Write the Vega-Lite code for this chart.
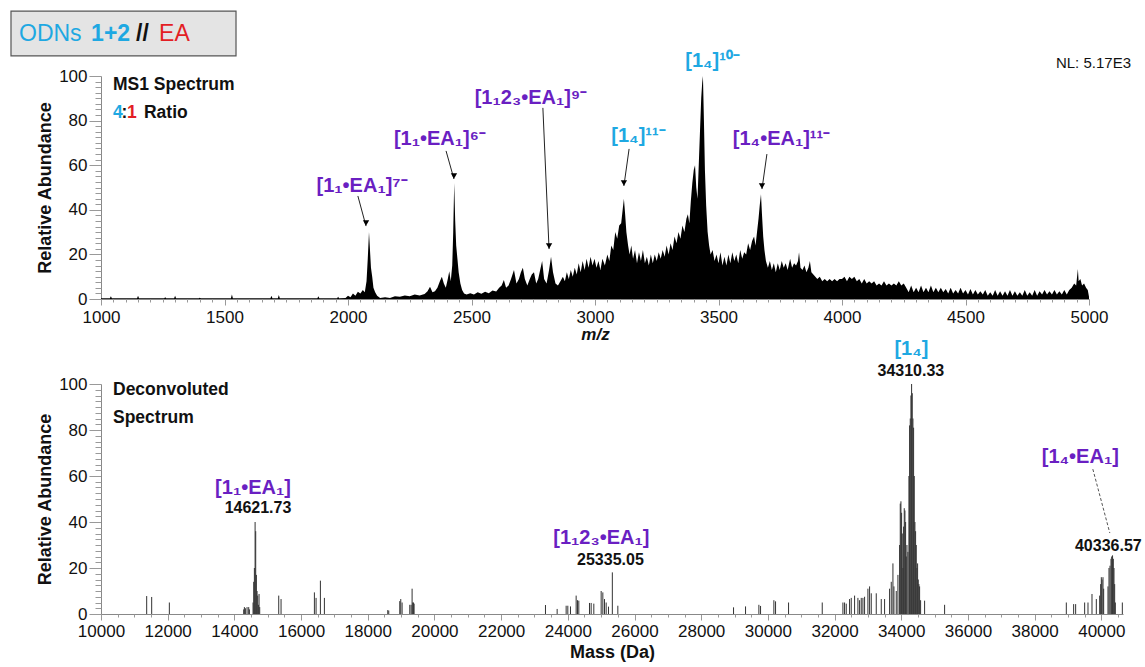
{
"$schema":"https://vega.github.io/schema/vega-lite/v6.json",
"padding":{"left":10,"top":10,"right":5,"bottom":5},
"background":"white",
"config":{
 "view":{"stroke":null},
 "font":"Liberation Sans",
 "axis":{"domainColor":"#888888","tickColor":"#999999","labelFont":"Liberation Sans","labelFontSize":17,"labelColor":"#111111","titleFont":"Liberation Sans","titleFontSize":18,"titleFontWeight":"bold","titleColor":"#111111","grid":false,"labelFlush":false,"labelOverlap":false}
},
"datasets":{
 "box":[{"mz0":635.6,"mz1":1546.6,"ab0":109.0,"ab1":129.1}],
 "box_regular":[{"text":"ODNs","mz":668,"ab":118.8,"species":"ODN"},{"text":"EA","mz":1235,"ab":118.8,"species":"EA"}],
 "box_bold":[{"text":"1+2","mz":960,"ab":118.8,"species":"ODN"},{"text":"//","mz":1142,"ab":118.8,"species":"none"}],
 "ms1_header":[{"text":"MS1 Spectrum","mz":1048.6,"ab":96,"species":"none"},{"text":"4","mz":1048.6,"ab":83.4,"species":"ODN"},{"text":":","mz":1083,"ab":83.4,"species":"none"},{"text":"1","mz":1105,"ab":83.4,"species":"EA"},{"text":"Ratio","mz":1174,"ab":83.4,"species":"none"}],
 "ms1_note":[{"text":"NL: 5.17E3","mz":5170,"ab":105.8}],
 "ms1_labels":[
  {"text":"[1₁•EA₁]⁷⁻","mz":2057,"ab":50.7,"species":"ODN•EA"},
  {"text":"[1₁•EA₁]⁶⁻","mz":2372,"ab":71.7,"species":"ODN•EA"},
  {"text":"[1₁2₃•EA₁]⁹⁻","mz":2741,"ab":90.1,"species":"ODN•EA"},
  {"text":"[1₄]¹¹⁻","mz":3176,"ab":73.1,"species":"ODN"},
  {"text":"[1₄]¹⁰⁻","mz":3476,"ab":106.7,"species":"ODN"},
  {"text":"[1₄•EA₁]¹¹⁻","mz":3755,"ab":71.7,"species":"ODN•EA"}
 ],
 "ms1_arrows":[
  {"mz":2040,"ab":46.2,"mz_tip":2073,"ab_tip":32.7},
  {"mz":2397,"ab":66.4,"mz_tip":2429,"ab_tip":53.8},
  {"mz":2789,"ab":85.7,"mz_tip":2814,"ab_tip":22.4},
  {"mz":3138,"ab":67.3,"mz_tip":3117,"ab_tip":50.7},
  {"mz":3696,"ab":65.0,"mz_tip":3676,"ab_tip":49.3}
 ],
 "ms1":[
{"mz":1000,"ab":0.3},{"mz":1036,"ab":0.3},{"mz":1040,"ab":1.2},{"mz":1044,"ab":0.3},{"mz":1146,"ab":0.3},{"mz":1150,"ab":1.5},{"mz":1154,"ab":0.3},{"mz":1256,"ab":0.3},{"mz":1260,"ab":0.8},{"mz":1264,"ab":0.3},{"mz":1296,"ab":0.3},{"mz":1300,"ab":1.5},{"mz":1304,"ab":0.3},{"mz":1396,"ab":0.3},{"mz":1400,"ab":0.6},{"mz":1404,"ab":0.3},{"mz":1526,"ab":0.3},{"mz":1530,"ab":2.0},{"mz":1534,"ab":0.3},{"mz":1686,"ab":0.3},{"mz":1690,"ab":1.5},{"mz":1694,"ab":0.3},{"mz":1716,"ab":0.3},{"mz":1720,"ab":1.8},{"mz":1724,"ab":0.3},{"mz":1876,"ab":0.3},{"mz":1880,"ab":1.2},{"mz":1884,"ab":0.3},{"mz":1956,"ab":0.3},{"mz":1960,"ab":1.0},{"mz":1964,"ab":0.3},{"mz":1990,"ab":0.4},
{"mz":2000,"ab":1.5},{"mz":2010,"ab":0.8},{"mz":2020,"ab":2.5},{"mz":2030,"ab":1.5},{"mz":2040,"ab":3.2},{"mz":2050,"ab":2.5},{"mz":2060,"ab":4},{"mz":2068,"ab":3},{"mz":2075,"ab":8},{"mz":2080,"ab":18},{"mz":2085,"ab":30},{"mz":2089,"ab":22},{"mz":2093,"ab":14},{"mz":2098,"ab":10},{"mz":2103,"ab":5},{"mz":2110,"ab":3},{"mz":2118,"ab":1.5},{"mz":2130,"ab":0.5},{"mz":2150,"ab":0.8},{"mz":2170,"ab":0.5},{"mz":2190,"ab":1.2},{"mz":2210,"ab":1.0},{"mz":2230,"ab":1.6},{"mz":2250,"ab":1.2},{"mz":2270,"ab":2.0},{"mz":2290,"ab":1.6},{"mz":2310,"ab":2.2},{"mz":2322,"ab":3.5},{"mz":2332,"ab":5.5},{"mz":2342,"ab":3},{"mz":2352,"ab":3.5},{"mz":2362,"ab":5},{"mz":2372,"ab":8},{"mz":2380,"ab":10},{"mz":2388,"ab":7},{"mz":2396,"ab":5},{"mz":2404,"ab":9},{"mz":2410,"ab":12.5},{"mz":2416,"ab":8},{"mz":2422,"ab":15},{"mz":2426,"ab":30},{"mz":2430,"ab":52},{"mz":2434,"ab":35},{"mz":2438,"ab":24},{"mz":2443,"ab":18},{"mz":2448,"ab":12},{"mz":2455,"ab":7},{"mz":2462,"ab":4},{"mz":2470,"ab":2.5},{"mz":2480,"ab":2},{"mz":2495,"ab":2.6},{"mz":2510,"ab":2.0},{"mz":2525,"ab":3.0},{"mz":2540,"ab":2.4},{"mz":2555,"ab":3.2},{"mz":2570,"ab":2.6},{"mz":2585,"ab":3.8},{"mz":2600,"ab":3.4},{"mz":2612,"ab":5},{"mz":2622,"ab":6},{"mz":2631,"ab":8.5},{"mz":2640,"ab":5},{"mz":2650,"ab":6},{"mz":2660,"ab":9},{"mz":2672,"ab":13},{"mz":2682,"ab":7},{"mz":2692,"ab":9},{"mz":2700,"ab":12},{"mz":2708,"ab":14},{"mz":2716,"ab":9},{"mz":2726,"ab":6},{"mz":2736,"ab":9},{"mz":2744,"ab":11},{"mz":2753,"ab":12},{"mz":2762,"ab":7},{"mz":2770,"ab":9},{"mz":2778,"ab":13},{"mz":2786,"ab":17},{"mz":2794,"ab":9},{"mz":2804,"ab":7},{"mz":2814,"ab":13},{"mz":2822,"ab":19},{"mz":2830,"ab":12},{"mz":2840,"ab":7},{"mz":2850,"ab":6},{"mz":2860,"ab":8},{"mz":2870,"ab":10},{"mz":2878,"ab":8},{"mz":2886,"ab":12},{"mz":2894,"ab":9},{"mz":2902,"ab":13},{"mz":2910,"ab":10},{"mz":2918,"ab":14},{"mz":2926,"ab":11},{"mz":2934,"ab":16},{"mz":2942,"ab":12},{"mz":2950,"ab":17},{"mz":2958,"ab":13},{"mz":2966,"ab":18},{"mz":2974,"ab":14},{"mz":2982,"ab":19},{"mz":2990,"ab":15},{"mz":2998,"ab":18},{"mz":3006,"ab":14},{"mz":3014,"ab":17},{"mz":3022,"ab":13},{"mz":3030,"ab":18},{"mz":3040,"ab":15},{"mz":3050,"ab":20},{"mz":3058,"ab":17},{"mz":3066,"ab":24},{"mz":3074,"ab":22},{"mz":3082,"ab":30},{"mz":3090,"ab":27},{"mz":3098,"ab":33},{"mz":3106,"ab":34},{"mz":3112,"ab":40},{"mz":3117,"ab":45},{"mz":3122,"ab":38},{"mz":3127,"ab":30},{"mz":3134,"ab":24},{"mz":3140,"ab":20},{"mz":3147,"ab":24},{"mz":3154,"ab":18},{"mz":3162,"ab":22},{"mz":3170,"ab":16},{"mz":3178,"ab":21},{"mz":3186,"ab":17},{"mz":3194,"ab":22},{"mz":3202,"ab":16},{"mz":3210,"ab":19},{"mz":3218,"ab":15},{"mz":3226,"ab":20},{"mz":3234,"ab":16},{"mz":3242,"ab":20},{"mz":3250,"ab":17},{"mz":3258,"ab":21},{"mz":3266,"ab":18},{"mz":3274,"ab":22},{"mz":3282,"ab":19},{"mz":3290,"ab":24},{"mz":3298,"ab":20},{"mz":3306,"ab":25},{"mz":3314,"ab":22},{"mz":3322,"ab":28},{"mz":3330,"ab":25},{"mz":3338,"ab":30},{"mz":3346,"ab":27},{"mz":3354,"ab":33},{"mz":3362,"ab":30},{"mz":3370,"ab":36},{"mz":3376,"ab":38},{"mz":3382,"ab":34},{"mz":3388,"ab":44},{"mz":3394,"ab":52},{"mz":3400,"ab":58},{"mz":3405,"ab":60},{"mz":3410,"ab":50},{"mz":3415,"ab":45},{"mz":3420,"ab":60},{"mz":3425,"ab":75},{"mz":3430,"ab":90},{"mz":3434,"ab":97},{"mz":3437,"ab":100},{"mz":3441,"ab":80},{"mz":3445,"ab":58},{"mz":3450,"ab":42},{"mz":3456,"ab":30},{"mz":3462,"ab":24},{"mz":3468,"ab":20},{"mz":3476,"ab":22},{"mz":3484,"ab":17},{"mz":3492,"ab":20},{"mz":3500,"ab":16},{"mz":3508,"ab":21},{"mz":3516,"ab":15},{"mz":3524,"ab":19},{"mz":3532,"ab":15},{"mz":3540,"ab":20},{"mz":3548,"ab":16},{"mz":3556,"ab":21},{"mz":3564,"ab":17},{"mz":3572,"ab":20},{"mz":3580,"ab":16},{"mz":3588,"ab":22},{"mz":3596,"ab":18},{"mz":3604,"ab":21},{"mz":3612,"ab":20},{"mz":3620,"ab":25},{"mz":3628,"ab":22},{"mz":3636,"ab":26},{"mz":3644,"ab":28},{"mz":3650,"ab":24},{"mz":3656,"ab":30},{"mz":3662,"ab":36},{"mz":3667,"ab":42},{"mz":3672,"ab":47},{"mz":3676,"ab":38},{"mz":3681,"ab":28},{"mz":3686,"ab":22},{"mz":3692,"ab":17},{"mz":3700,"ab":14},{"mz":3708,"ab":17},{"mz":3716,"ab":13},{"mz":3724,"ab":16},{"mz":3732,"ab":12},{"mz":3740,"ab":16},{"mz":3748,"ab":13},{"mz":3756,"ab":17},{"mz":3764,"ab":14},{"mz":3772,"ab":16},{"mz":3780,"ab":13},{"mz":3790,"ab":18},{"mz":3798,"ab":14},{"mz":3806,"ab":16},{"mz":3814,"ab":15},{"mz":3822,"ab":17},{"mz":3826,"ab":21},{"mz":3832,"ab":14},{"mz":3840,"ab":13},{"mz":3848,"ab":15},{"mz":3856,"ab":12},{"mz":3864,"ab":14},{"mz":3870,"ab":17},{"mz":3876,"ab":12},{"mz":3884,"ab":11},{"mz":3892,"ab":10},{"mz":3900,"ab":9},{"mz":3910,"ab":10},{"mz":3920,"ab":8},{"mz":3930,"ab":9},{"mz":3940,"ab":8},{"mz":3950,"ab":9},{"mz":3960,"ab":8},{"mz":3970,"ab":9},{"mz":3980,"ab":8},{"mz":3990,"ab":9},{"mz":4000,"ab":9},{"mz":4010,"ab":10},{"mz":4020,"ab":8},{"mz":4030,"ab":10},{"mz":4040,"ab":9},{"mz":4050,"ab":10},{"mz":4060,"ab":8},{"mz":4070,"ab":9},{"mz":4080,"ab":7},{"mz":4090,"ab":9},{"mz":4100,"ab":7},{"mz":4110,"ab":8},{"mz":4120,"ab":7},{"mz":4130,"ab":8},{"mz":4140,"ab":6},{"mz":4150,"ab":7},{"mz":4160,"ab":6},{"mz":4170,"ab":8},{"mz":4180,"ab":6},{"mz":4190,"ab":7},{"mz":4200,"ab":6},{"mz":4210,"ab":7},{"mz":4220,"ab":6},{"mz":4230,"ab":8},{"mz":4240,"ab":6},{"mz":4250,"ab":7},{"mz":4260,"ab":5},{"mz":4270,"ab":3},{"mz":4280,"ab":6},{"mz":4290,"ab":3},{"mz":4300,"ab":5},{"mz":4310,"ab":3},{"mz":4320,"ab":6},{"mz":4330,"ab":3},{"mz":4340,"ab":5},{"mz":4350,"ab":3},{"mz":4360,"ab":6},{"mz":4370,"ab":3},{"mz":4380,"ab":5},{"mz":4390,"ab":3},{"mz":4400,"ab":5},{"mz":4410,"ab":3},{"mz":4420,"ab":4.5},{"mz":4430,"ab":2.5},{"mz":4440,"ab":5},{"mz":4450,"ab":2.5},{"mz":4460,"ab":4},{"mz":4470,"ab":2.5},{"mz":4480,"ab":5},{"mz":4490,"ab":2.5},{"mz":4500,"ab":4},{"mz":4510,"ab":2},{"mz":4520,"ab":4.5},{"mz":4530,"ab":2},{"mz":4540,"ab":4},{"mz":4550,"ab":2},{"mz":4560,"ab":3.5},{"mz":4570,"ab":2},{"mz":4580,"ab":4},{"mz":4590,"ab":1.5},{"mz":4600,"ab":3},{"mz":4610,"ab":1.5},{"mz":4620,"ab":4},{"mz":4630,"ab":1.5},{"mz":4640,"ab":3.5},{"mz":4650,"ab":1.5},{"mz":4660,"ab":3.5},{"mz":4670,"ab":1.5},{"mz":4680,"ab":4},{"mz":4690,"ab":1.5},{"mz":4700,"ab":3.5},{"mz":4710,"ab":1.5},{"mz":4720,"ab":3},{"mz":4730,"ab":1.5},{"mz":4740,"ab":4},{"mz":4750,"ab":1.5},{"mz":4760,"ab":3},{"mz":4770,"ab":1.5},{"mz":4780,"ab":4},{"mz":4790,"ab":1.5},{"mz":4800,"ab":3.5},{"mz":4810,"ab":2},{"mz":4820,"ab":4},{"mz":4830,"ab":2},{"mz":4840,"ab":3.5},{"mz":4850,"ab":2},{"mz":4860,"ab":4},{"mz":4870,"ab":2},{"mz":4880,"ab":3.5},{"mz":4890,"ab":2},{"mz":4900,"ab":4},{"mz":4910,"ab":2},{"mz":4920,"ab":4},{"mz":4930,"ab":5},{"mz":4940,"ab":7},{"mz":4948,"ab":6},{"mz":4955,"ab":13.5},{"mz":4958,"ab":8},{"mz":4965,"ab":9},{"mz":4972,"ab":6},{"mz":4980,"ab":7},{"mz":4988,"ab":5},{"mz":4995,"ab":4},{"mz":5000,"ab":1}
 ],
 "deconv":[
{"mass":11370,"ab":7.8},{"mass":11520,"ab":7.4},{"mass":12050,"ab":5},
{"mass":14280,"ab":2},{"mass":14300,"ab":3},{"mass":14330,"ab":2.5},{"mass":14380,"ab":3},{"mass":14430,"ab":3},{"mass":14450,"ab":2},{"mass":14560,"ab":5},{"mass":14580,"ab":14},{"mass":14600,"ab":20},{"mass":14621.73,"ab":40},{"mass":14640,"ab":36},{"mass":14660,"ab":17},{"mass":14680,"ab":10},{"mass":14700,"ab":8},{"mass":14720,"ab":4},{"mass":14740,"ab":8.7},{"mass":14760,"ab":3},
{"mass":15330,"ab":8},{"mass":15400,"ab":6.5},{"mass":16400,"ab":9.4},{"mass":16450,"ab":7},{"mass":16580,"ab":14.5},{"mass":16700,"ab":7},
{"mass":18600,"ab":1.7},{"mass":18630,"ab":1.5},{"mass":18960,"ab":5.6},{"mass":18990,"ab":6.5},{"mass":19030,"ab":5},{"mass":19260,"ab":4},{"mass":19300,"ab":4},{"mass":19330,"ab":11},{"mass":19350,"ab":5},{"mass":19370,"ab":5},{"mass":19390,"ab":4.5},
{"mass":23330,"ab":3.9},{"mass":23680,"ab":2.2},{"mass":23950,"ab":3.6},{"mass":24000,"ab":3.6},{"mass":24080,"ab":3.3},{"mass":24250,"ab":8},{"mass":24290,"ab":6},{"mass":24330,"ab":5.8},{"mass":24650,"ab":4.8},{"mass":24700,"ab":4.8},{"mass":24780,"ab":4.5},{"mass":25000,"ab":10},{"mass":25050,"ab":9.4},{"mass":25100,"ab":6.5},{"mass":25150,"ab":5},{"mass":25220,"ab":3.2},{"mass":25335.05,"ab":18.1},{"mass":25500,"ab":3.6},
{"mass":28970,"ab":2.9},{"mass":29330,"ab":3.3},{"mass":29730,"ab":4},{"mass":29780,"ab":3.5},{"mass":30180,"ab":6},{"mass":30230,"ab":5.5},{"mass":30620,"ab":5},
{"mass":31630,"ab":5},{"mass":32250,"ab":5},{"mass":32300,"ab":5},{"mass":32350,"ab":4.5},{"mass":32450,"ab":6.5},{"mass":32500,"ab":7},{"mass":32600,"ab":8},{"mass":32700,"ab":7},{"mass":32750,"ab":6},{"mass":32800,"ab":7},{"mass":32850,"ab":7},{"mass":32900,"ab":7.5},{"mass":33000,"ab":11},{"mass":33050,"ab":12},{"mass":33100,"ab":9},{"mass":33250,"ab":9},{"mass":33400,"ab":6.5},{"mass":33500,"ab":6.5},
{"mass":33650,"ab":11},{"mass":33700,"ab":14},{"mass":33750,"ab":22},{"mass":33780,"ab":12},{"mass":33850,"ab":10},{"mass":33900,"ab":17},{"mass":33950,"ab":30},{"mass":33970,"ab":48},{"mass":33990,"ab":49},{"mass":34010,"ab":44},{"mass":34030,"ab":35},{"mass":34050,"ab":20},{"mass":34070,"ab":38},{"mass":34090,"ab":46},{"mass":34110,"ab":45},{"mass":34130,"ab":40},{"mass":34150,"ab":25},{"mass":34170,"ab":30},{"mass":34200,"ab":27},{"mass":34230,"ab":60},{"mass":34250,"ab":82},{"mass":34270,"ab":85},{"mass":34290,"ab":95},{"mass":34310.33,"ab":100},{"mass":34330,"ab":96},{"mass":34350,"ab":85},{"mass":34370,"ab":81},{"mass":34390,"ab":60},{"mass":34410,"ab":40},{"mass":34430,"ab":36},{"mass":34450,"ab":30},{"mass":34470,"ab":20},{"mass":34490,"ab":22},{"mass":34510,"ab":15},{"mass":34530,"ab":13},{"mass":34550,"ab":12},{"mass":34580,"ab":6},{"mass":34700,"ab":5.8},
{"mass":35300,"ab":4},{"mass":38950,"ab":5},{"mass":39170,"ab":4.3},{"mass":39230,"ab":4.3},{"mass":39500,"ab":5},{"mass":39600,"ab":5},{"mass":39720,"ab":8.7},{"mass":39850,"ab":6.5},
{"mass":39950,"ab":8},{"mass":39980,"ab":13},{"mass":40000,"ab":16},{"mass":40020,"ab":15},{"mass":40050,"ab":16},{"mass":40070,"ab":11},{"mass":40200,"ab":12},{"mass":40230,"ab":20},{"mass":40260,"ab":21},{"mass":40290,"ab":24},{"mass":40310,"ab":25},{"mass":40336.57,"ab":25.5},{"mass":40360,"ab":24},{"mass":40380,"ab":20},{"mass":40400,"ab":13},{"mass":40420,"ab":5},{"mass":40630,"ab":5}
 ],
 "deconv_header":[{"text":"Deconvoluted","mass":10360,"ab":97.4},{"text":"Spectrum","mass":10360,"ab":85.2}],
 "deconv_labels":[
  {"text":"[1₁•EA₁]","mass":14558,"ab":54.8,"species":"ODN•EA"},
  {"text":"[1₁2₃•EA₁]","mass":25007,"ab":33.0,"species":"ODN•EA"},
  {"text":"[1₄]","mass":34303,"ab":115.2,"species":"ODN"},
  {"text":"[1₄•EA₁]","mass":39370,"ab":68.3,"species":"ODN•EA"}
 ],
 "deconv_masses":[
  {"text":"14621.73","mass":14708,"ab":46.1},
  {"text":"25335.05","mass":25277,"ab":23.5},
  {"text":"34310.33","mass":34288,"ab":105.7},
  {"text":"40336.57","mass":40210,"ab":29.6}
 ],
 "deconv_link":[{"mass":39745,"ab":63.0,"mass_end":40255,"ab_end":35.2}]
},
"bounds":"flush",
"spacing":85,
"vconcat":[
 {
  "width":988,"height":223,
  "resolve":{"axis":{"x":"independent","y":"independent"}},
  "layer":[
   {"data":{"name":"box"},"mark":{"type":"rect","fill":"#e4e4e4","stroke":"#555555","strokeWidth":1.2},
    "encoding":{"x":{"field":"mz0","type":"quantitative","scale":{"domain":[1000,5000],"nice":false,"zero":false},"axis":null},"x2":{"field":"mz1"},
     "y":{"field":"ab0","type":"quantitative","scale":{"domain":[0,100],"nice":false},"axis":null},"y2":{"field":"ab1"}}},
   {"data":{"name":"ms1"},"mark":{"type":"area","color":"#000000","interpolate":"linear"},
    "encoding":{
     "x":{"field":"mz","type":"quantitative","scale":{"domain":[1000,5000],"nice":false,"zero":false},
      "axis":{"orient":"bottom","title":"m/z","titleFontStyle":"italic","titleFontSize":17,"titlePadding":1,"format":"d",
       "values":[1000,1500,2000,2500,3000,3500,4000,4500,5000],"tickSize":6,"labelPadding":4}},
     "y":{"field":"ab","type":"quantitative","scale":{"domain":[0,100],"nice":false},
      "axis":{"orient":"left","title":"Relative Abundance","titlePadding":4,"labelPadding":2,
       "values":[0,20,40,60,80,100],"tickSize":12}}}},
   {"data":{"name":"ms1_arrows"},"mark":{"type":"rule","color":"#222222","strokeWidth":1},
    "encoding":{"x":{"field":"mz","type":"quantitative","scale":{"domain":[1000,5000],"nice":false,"zero":false},
      "axis":{"orient":"bottom","title":null,"labels":false,"domain":false,"tickSize":3,
       "values":[1050,1100,1150,1200,1250,1300,1350,1400,1450,1550,1600,1650,1700,1750,1800,1850,1900,1950,2050,2100,2150,2200,2250,2300,2350,2400,2450,2550,2600,2650,2700,2750,2800,2850,2900,2950,3050,3100,3150,3200,3250,3300,3350,3400,3450,3550,3600,3650,3700,3750,3800,3850,3900,3950,4050,4100,4150,4200,4250,4300,4350,4400,4450,4550,4600,4650,4700,4750,4800,4850,4900,4950]}},
     "x2":{"field":"mz_tip"},
     "y":{"field":"ab","type":"quantitative","scale":{"domain":[0,100],"nice":false},
      "axis":{"orient":"left","title":null,"labels":false,"domain":false,"tickSize":6,
       "values":[2.5,5,7.5,10,12.5,15,17.5,22.5,25,27.5,30,32.5,35,37.5,42.5,45,47.5,50,52.5,55,57.5,62.5,65,67.5,70,72.5,75,77.5,82.5,85,87.5,90,92.5,95,97.5]}},
     "y2":{"field":"ab_tip"}}},
   {"data":{"name":"ms1_arrows"},"mark":{"type":"point","shape":"triangle-down","filled":true,"color":"#000000","size":40,"opacity":1,"yOffset":-3},
    "encoding":{"x":{"field":"mz_tip","type":"quantitative","scale":{"domain":[1000,5000],"nice":false,"zero":false},"axis":null},
     "y":{"field":"ab_tip","type":"quantitative","scale":{"domain":[0,100],"nice":false},"axis":null}}},
   {"data":{"name":"ms1_labels"},"mark":{"type":"text","font":"Liberation Sans","fontWeight":"bold","fontSize":20,"align":"center","baseline":"middle"},
    "encoding":{"x":{"field":"mz","type":"quantitative","scale":{"domain":[1000,5000],"nice":false,"zero":false},"axis":null},
     "y":{"field":"ab","type":"quantitative","scale":{"domain":[0,100],"nice":false},"axis":null},
     "text":{"field":"text"},
     "color":{"field":"species","type":"nominal","scale":{"domain":["ODN","ODN•EA","EA","none"],"range":["#1ea8e2","#6a1fc2","#e31e24","#111111"]},"legend":null}}},
   {"data":{"name":"ms1_header"},"mark":{"type":"text","font":"Liberation Sans","fontWeight":"bold","fontSize":17.5,"align":"left","baseline":"middle"},
    "encoding":{"x":{"field":"mz","type":"quantitative","scale":{"domain":[1000,5000],"nice":false,"zero":false},"axis":null},
     "y":{"field":"ab","type":"quantitative","scale":{"domain":[0,100],"nice":false},"axis":null},
     "text":{"field":"text"},
     "color":{"field":"species","type":"nominal","scale":{"domain":["ODN","ODN•EA","EA","none"],"range":["#1ea8e2","#6a1fc2","#e31e24","#111111"]},"legend":null}}},
   {"data":{"name":"box_regular"},"mark":{"type":"text","font":"Liberation Sans","fontWeight":"normal","fontSize":23,"align":"left","baseline":"middle"},
    "encoding":{"x":{"field":"mz","type":"quantitative","scale":{"domain":[1000,5000],"nice":false,"zero":false},"axis":null},
     "y":{"field":"ab","type":"quantitative","scale":{"domain":[0,100],"nice":false},"axis":null},
     "text":{"field":"text"},
     "color":{"field":"species","type":"nominal","scale":{"domain":["ODN","ODN•EA","EA","none"],"range":["#1ea8e2","#6a1fc2","#e31e24","#111111"]},"legend":null}}},
   {"data":{"name":"box_bold"},"mark":{"type":"text","font":"Liberation Sans","fontWeight":"bold","fontSize":23,"align":"left","baseline":"middle"},
    "encoding":{"x":{"field":"mz","type":"quantitative","scale":{"domain":[1000,5000],"nice":false,"zero":false},"axis":null},
     "y":{"field":"ab","type":"quantitative","scale":{"domain":[0,100],"nice":false},"axis":null},
     "text":{"field":"text"},
     "color":{"field":"species","type":"nominal","scale":{"domain":["ODN","ODN•EA","EA","none"],"range":["#1ea8e2","#6a1fc2","#e31e24","#111111"]},"legend":null}}},
   {"data":{"name":"ms1_note"},"mark":{"type":"text","font":"Liberation Sans","fontSize":15,"align":"right","baseline":"middle","color":"#111111"},
    "encoding":{"x":{"field":"mz","type":"quantitative","scale":{"domain":[1000,5000],"nice":false,"zero":false},"axis":null},
     "y":{"field":"ab","type":"quantitative","scale":{"domain":[0,100],"nice":false},"axis":null},
     "text":{"field":"text"}}}
  ]
 },
 {
  "width":1022,"height":230,
  "resolve":{"axis":{"x":"independent","y":"independent"}},
  "layer":[
   {"data":{"name":"deconv"},"mark":{"type":"rule","color":"#333333","strokeWidth":1},
    "encoding":{
     "x":{"field":"mass","type":"quantitative","scale":{"domain":[10000,40650],"nice":false,"zero":false},
      "axis":{"orient":"bottom","title":"Mass (Da)","titleFontSize":18,"titlePadding":4,"format":"d","labelPadding":3,"tickSize":6,
       "values":[10000,12000,14000,16000,18000,20000,22000,24000,26000,28000,30000,32000,34000,36000,38000,40000]}},
     "y":{"field":"ab","type":"quantitative","scale":{"domain":[0,100],"nice":false},
      "axis":{"orient":"left","title":"Relative Abundance","titlePadding":4,"labelPadding":2,"tickSize":12,
       "values":[0,20,40,60,80,100]}},
     "y2":{"datum":0}}},
   {"data":{"name":"deconv_link"},"mark":{"type":"rule","color":"#555555","strokeWidth":1,"strokeDash":[3,2]},
    "encoding":{"x":{"field":"mass","type":"quantitative","scale":{"domain":[10000,40650],"nice":false,"zero":false},
      "axis":{"orient":"bottom","title":null,"labels":false,"domain":false,"tickSize":3,
       "values":[10500,11000,11500,12500,13000,13500,14500,15000,15500,16500,17000,17500,18500,19000,19500,20500,21000,21500,22500,23000,23500,24500,25000,25500,26500,27000,27500,28500,29000,29500,30500,31000,31500,32500,33000,33500,34500,35000,35500,36500,37000,37500,38500,39000,39500,40500]}},
     "x2":{"field":"mass_end"},
     "y":{"field":"ab","type":"quantitative","scale":{"domain":[0,100],"nice":false},
      "axis":{"orient":"left","title":null,"labels":false,"domain":false,"tickSize":6,
       "values":[2.5,5,7.5,10,12.5,15,17.5,22.5,25,27.5,30,32.5,35,37.5,42.5,45,47.5,50,52.5,55,57.5,62.5,65,67.5,70,72.5,75,77.5,82.5,85,87.5,90,92.5,95,97.5]}},
     "y2":{"field":"ab_end"}}},
   {"data":{"name":"deconv_header"},"mark":{"type":"text","font":"Liberation Sans","fontWeight":"bold","fontSize":17.5,"align":"left","baseline":"middle","color":"#111111"},
    "encoding":{"x":{"field":"mass","type":"quantitative","scale":{"domain":[10000,40650],"nice":false,"zero":false},"axis":null},
     "y":{"field":"ab","type":"quantitative","scale":{"domain":[0,100],"nice":false},"axis":null},
     "text":{"field":"text"}}},
   {"data":{"name":"deconv_labels"},"mark":{"type":"text","font":"Liberation Sans","fontWeight":"bold","fontSize":20,"align":"center","baseline":"middle"},
    "encoding":{"x":{"field":"mass","type":"quantitative","scale":{"domain":[10000,40650],"nice":false,"zero":false},"axis":null},
     "y":{"field":"ab","type":"quantitative","scale":{"domain":[0,100],"nice":false},"axis":null},
     "text":{"field":"text"},
     "color":{"field":"species","type":"nominal","scale":{"domain":["ODN","ODN•EA","EA","none"],"range":["#1ea8e2","#6a1fc2","#e31e24","#111111"]},"legend":null}}},
   {"data":{"name":"deconv_masses"},"mark":{"type":"text","font":"Liberation Sans","fontWeight":"bold","fontSize":16,"align":"center","baseline":"middle","color":"#111111"},
    "encoding":{"x":{"field":"mass","type":"quantitative","scale":{"domain":[10000,40650],"nice":false,"zero":false},"axis":null},
     "y":{"field":"ab","type":"quantitative","scale":{"domain":[0,100],"nice":false},"axis":null},
     "text":{"field":"text"}}}
  ]
 }
]
}
